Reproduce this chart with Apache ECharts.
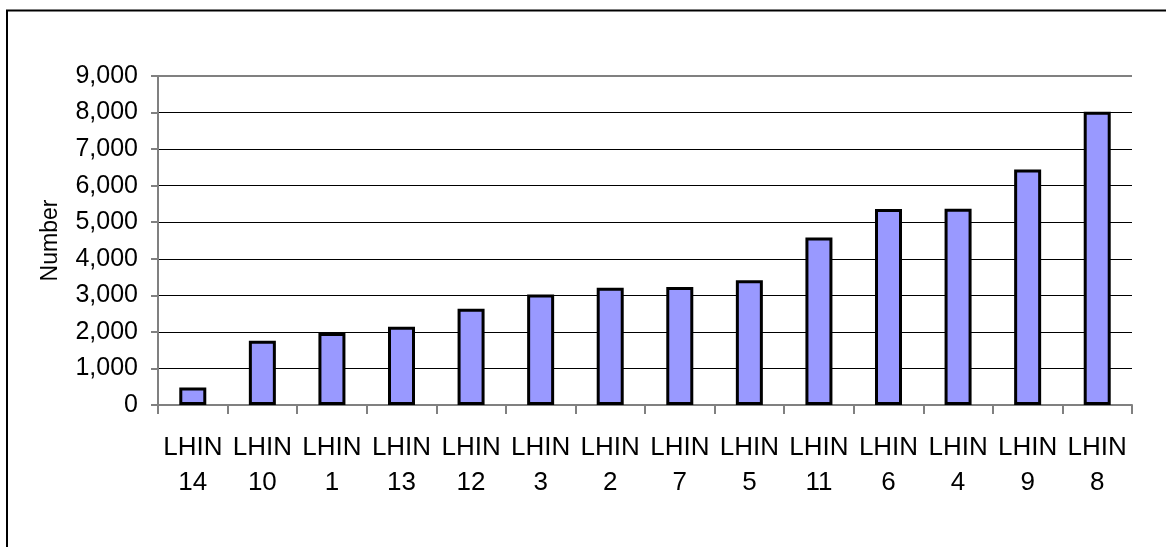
<!DOCTYPE html>
<html>
<head>
<meta charset="utf-8">
<script src="https://cdn.jsdelivr.net/npm/echarts@6/dist/echarts.min.js"></script>
<style>
html,body{margin:0;padding:0;background:#fff;}
#chart{width:1166px;height:547px;}
</style>
</head>
<body>
<div id="chart"></div>
<script>
const categories = ['LHIN\n14','LHIN\n10','LHIN\n1','LHIN\n13','LHIN\n12','LHIN\n3','LHIN\n2','LHIN\n7','LHIN\n5','LHIN\n11','LHIN\n6','LHIN\n4','LHIN\n9','LHIN\n8'];
const values = [480, 1760, 1970, 2140, 2630, 3020, 3210, 3230, 3410, 4580, 5360, 5370, 6440, 8020];
const yAxisTitle = 'Number';

const chart = echarts.init(document.getElementById('chart'));
const font = 'Liberation Sans, Arial, sans-serif';
chart.setOption({
  animation: false,
  backgroundColor: '#fff',
  graphic: [{
    type: 'rect',
    shape: {x: 7, y: 10.5, width: 1200, height: 600},
    style: {fill: 'none', stroke: '#000', lineWidth: 2},
    silent: true
  }],
  grid: {left: 158, right: 34, top: 76, bottom: 142},
  xAxis: {
    type: 'category',
    data: categories,
    axisLine: {lineStyle: {color: '#808080', width: 2}},
    axisTick: {show: true, alignWithLabel: false, length: 9, lineStyle: {color: '#808080', width: 2}},
    axisLabel: {color: '#000', fontFamily: font, fontSize: 26, lineHeight: 35, margin: 25, interval: 0}
  },
  yAxis: {
    type: 'value',
    min: 0, max: 9000, interval: 1000,
    name: yAxisTitle,
    nameLocation: 'middle',
    nameGap: 96,
    nameTextStyle: {color: '#000', fontFamily: font, fontSize: 23},
    axisLine: {show: true, lineStyle: {color: '#808080', width: 2}},
    axisTick: {show: true, length: 7, lineStyle: {color: '#808080', width: 2}},
    axisLabel: {color: '#000', fontFamily: font, fontSize: 25, margin: 20,
      formatter: v => v.toLocaleString('en-US')},
    splitLine: {show: true, lineStyle: {color: '#000', width: 1}}
  },
  series: [{
    type: 'bar',
    data: values,
    barWidth: 27,
    itemStyle: {color: '#9999FF', borderColor: '#000', borderWidth: 3},
    markLine: {
      silent: true, symbol: 'none', label: {show: false},
      lineStyle: {color: '#808080', width: 2, type: 'solid'},
      data: [{yAxis: 9000}]
    }
  }]
});
</script>
</body>
</html>
